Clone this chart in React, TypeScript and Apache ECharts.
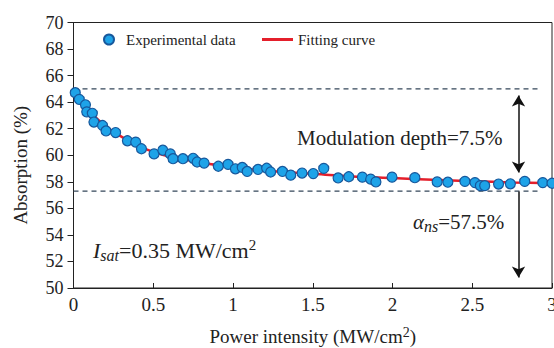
import React, { useEffect, useRef } from "react";
import * as echarts from "echarts";

const expX = [0.011, 0.036, 0.075, 0.083, 0.118, 0.128, 0.182, 0.204, 0.264, 0.338, 0.39, 0.426, 0.505, 0.56, 0.607, 0.624, 0.686, 0.75, 0.775, 0.819, 0.908, 0.969, 1.015, 1.058, 1.089, 1.157, 1.211, 1.236, 1.31, 1.362, 1.433, 1.503, 1.569, 1.659, 1.726, 1.811, 1.863, 1.896, 1.997, 2.14, 2.28, 2.347, 2.454, 2.517, 2.551, 2.578, 2.665, 2.739, 2.829, 2.942, 3.0];
const expY = [64.71, 64.21, 63.8, 63.27, 63.16, 62.5, 62.24, 61.83, 61.71, 61.09, 60.99, 60.49, 60.1, 60.38, 60.1, 59.74, 59.74, 59.77, 59.49, 59.41, 59.17, 59.31, 58.98, 59.08, 58.78, 58.93, 59.02, 58.74, 58.78, 58.5, 58.66, 58.62, 59.01, 58.29, 58.38, 58.35, 58.2, 57.99, 58.35, 58.31, 57.99, 57.97, 58.03, 57.94, 57.71, 57.71, 57.83, 57.85, 58.03, 57.94, 57.89];

const fitX = [0, 0.05, 0.1, 0.2, 0.3, 0.4, 0.5, 0.6, 0.8, 1.0, 1.25, 1.5, 1.75, 2.0, 2.25, 2.5, 2.75, 3.0];
const fitY = [64.7, 64.0, 63.3, 62.2, 61.4, 60.75, 60.25, 59.9, 59.45, 59.1, 58.8, 58.6, 58.4, 58.28, 58.15, 58.05, 57.95, 57.9];

const upperLevel = 65.0;
const lowerLevel = 57.3;
const dashEndX = 2.92;
const arrowX = 2.79;

const FONT = "Liberation Serif";
const TXT = "#222";

export default function App() {
  const ref = useRef<HTMLDivElement>(null);
  useEffect(() => {
    if (!ref.current) return;
    const chart = echarts.init(ref.current, null, { renderer: "svg" });
    const expData = expX.map((x, i) => [x, expY[i]]);
    const fitData = fitX.map((x, i) => [x, fitY[i]]);
    chart.setOption({
      animation: false,
      backgroundColor: "#fff",
      textStyle: { fontFamily: FONT, color: TXT },
      grid: {
        left: 73.5, right: 2, top: 22.5, bottom: 60, show: true, borderColor: "#222", borderWidth: 1,
        backgroundColor: "transparent", outerBoundsMode: "none", containLabel: false,
      },
      legend: [
        {
          data: ["Experimental data"], left: 98, top: 27, itemWidth: 24, itemHeight: 10, itemGap: 0,
          textStyle: { fontFamily: FONT, fontSize: 15, color: TXT },
        },
        {
          data: [{ name: "Fitting curve", icon: "rect" }], left: 257, top: 27, itemWidth: 31, itemHeight: 3,
          textStyle: { fontFamily: FONT, fontSize: 15, color: TXT },
        },
      ],
      xAxis: {
        type: "value", min: 0, max: 3, interval: 0.5,
        name: "Power intensity (MW/cm{sup|2})", nameLocation: "middle", nameGap: 37,
        nameTextStyle: { fontFamily: FONT, fontSize: 19, color: TXT, rich: { sup: { fontFamily: FONT, fontSize: 14, color: TXT, padding: [0, 0, 8, 0] } } },
        axisLine: { lineStyle: { color: "#222", width: 1 } },
        axisTick: { inside: true, length: 5, lineStyle: { color: "#222" } },
        axisLabel: { fontFamily: FONT, fontSize: 19, color: TXT, margin: 7, formatter: (v: number) => String(v) },
        splitLine: { show: false },
      },
      yAxis: {
        type: "value", min: 50, max: 70, interval: 2,
        name: "Absorption (%)", nameLocation: "middle", nameGap: 44,
        nameTextStyle: { fontFamily: FONT, fontSize: 19, color: TXT, padding: [0, 20, 0, 0] },
        axisLine: { lineStyle: { color: "#222", width: 1 } },
        axisTick: { inside: false, length: 6, lineStyle: { color: "#222" } },
        axisLabel: { fontFamily: FONT, fontSize: 18, color: TXT, margin: 10 },
        splitLine: { show: false },
      },
      series: [
        {
          name: "upper", type: "line", data: [[0, upperLevel], [dashEndX, upperLevel]], symbol: "none",
          lineStyle: { color: "#34475a", width: 1.4, type: [5, 4] }, z: 1, silent: true,
        },
        {
          name: "lower", type: "line", data: [[0, lowerLevel], [dashEndX, lowerLevel]], symbol: "none",
          lineStyle: { color: "#34475a", width: 1.4, type: [5, 4] }, z: 1, silent: true,
          markLine: {
            silent: true, symbolSize: [10, 11],
            lineStyle: { color: "#111", width: 1.5, type: "solid" },
            label: { show: false },
            data: [
              [{ coord: [arrowX, 64.5], symbol: "arrow" }, { coord: [arrowX, 58.7], symbol: "arrow" }],
              [{ coord: [arrowX, 57.26], symbol: "none" }, { coord: [arrowX, 50.8], symbol: "arrow" }],
            ],
          },
        },
        {
          name: "Fitting curve", type: "line", data: fitData, showSymbol: false, symbol: "none", smooth: 0.3,
          lineStyle: { color: "#e41f2b", width: 2.5 }, itemStyle: { color: "#e41f2b" }, z: 2,
        },
        {
          name: "Experimental data", type: "scatter", data: expData, symbol: "circle", symbolSize: 10,
          itemStyle: { color: "#1ea3e8", borderColor: "#17589c", borderWidth: 1.2, opacity: 1 }, z: 3,
        },
      ],
      graphic: [
        {
          type: "text", x: 297, y: 138,
          style: { text: "Modulation depth=7.5%", fontFamily: FONT, fontSize: 21, fill: TXT, verticalAlign: "middle" },
        },
        {
          type: "text", x: 413, y: 222,
          style: {
            text: "{i|α}{sub|ns}{n|=57.5%}", verticalAlign: "middle", fill: TXT, fontFamily: FONT,
            rich: {
              i: { fontFamily: FONT, fontSize: 21, fontStyle: "italic", fill: TXT },
              sub: { fontFamily: FONT, fontSize: 16, fontStyle: "italic", fill: TXT, padding: [9, 0, 0, 0] },
              n: { fontFamily: FONT, fontSize: 21, fill: TXT },
            },
          },
        },
        {
          type: "text", x: 93, y: 250,
          style: {
            text: "{i|I}{sub|sat}{n|=0.35 MW/cm}{sup|2}", verticalAlign: "middle", fill: TXT, fontFamily: FONT,
            rich: {
              i: { fontFamily: FONT, fontSize: 22, fontStyle: "italic", fill: TXT },
              sub: { fontFamily: FONT, fontSize: 16, fontStyle: "italic", fill: TXT, padding: [10, 0, 0, 0] },
              n: { fontFamily: FONT, fontSize: 22, fill: TXT },
              sup: { fontFamily: FONT, fontSize: 15, fill: TXT, padding: [0, 0, 10, 0] },
            },
          },
        },
      ],
    });
    return () => chart.dispose();
  }, []);
  return <div ref={ref} style={{ width: 554, height: 348, position: "fixed", left: 0, top: 0 }} />;
}
